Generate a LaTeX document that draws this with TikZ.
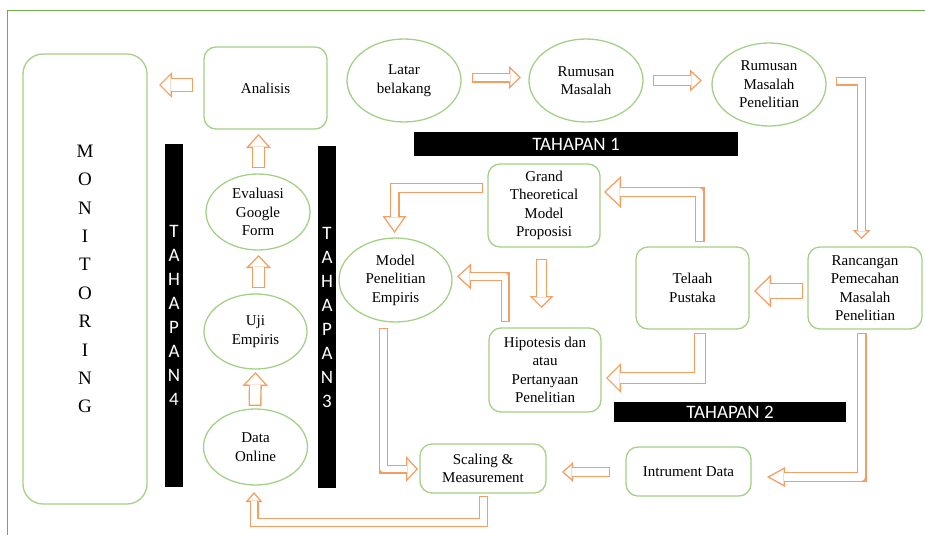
\documentclass[tikz,border=0pt]{standalone}
\usepackage{fontspec}
\setmainfont{Liberation Serif}
\newfontfamily\barfont{Carlito}
\usepackage{tikz}
\usetikzlibrary{arrows.meta,positioning,calc,shapes.geometric}
\definecolor{boxgreen}{RGB}{165,208,135}
\definecolor{framegreen}{RGB}{112,173,71}
\definecolor{arrorange}{RGB}{243,158,98}

\begin{document}
\begin{tikzpicture}[
  x=1pt, y=-1pt,
  font=\fontsize{15}{18.5}\selectfont,
  rbox/.style={draw=boxgreen, line width=1.3pt, rounded corners=12pt, align=center, inner sep=2pt, outer sep=0pt},
  oval/.style={draw=boxgreen, line width=1.3pt, ellipse, align=center, inner sep=0pt, outer sep=0pt, minimum width=114pt, minimum height=83pt},
  tahap/.style={fill=black, text=white, inner sep=0pt, outer sep=0pt, align=center, font=\barfont\fontsize{19}{24}\selectfont},
  blk/.code n args={3}{%
    \pgfmathsetmacro\blkd{1.4*veclen(#1/2,#2)/(#1/2)}%
    \pgfmathsetmacro\blkli{#2-1.4-\blkd}%
    \pgfmathsetmacro\blkhi{\blkli*#1/#2}%
    \pgfmathsetmacro\blkwi{#3-2.8}%
    \edef\blkopts{draw=white, line width=\blkwi pt, -{Triangle[width=\blkhi pt, length=\blkli pt, line width=0pt]}, shorten >=\blkd pt, shorten <=1.4pt,
      preaction={draw=arrorange, line width=#3pt, -{Triangle[width=#1pt, length=#2pt, line width=0pt]}, shorten >=0pt, shorten <=0pt}}%
    \expandafter\pgfkeysalso\expandafter{\blkopts}%
  },
  roundjoin/.style={line join=round}
]
  \useasboundingbox (0,0) rectangle (925,535);
  \draw[framegreen, line width=1pt] (7,535) -- (7,11) -- (925,11);

  \node[rbox, rounded corners=20pt, minimum width=124pt, minimum height=450pt, font=\fontsize{19}{28.4}\selectfont] (monitor) at (85,279) {M\\O\\N\\I\\T\\O\\R\\I\\N\\G};
  \node[rbox, minimum width=123pt, minimum height=82pt] (analisis) at (265.5,88) {Analisis};
  \node[oval] (latar) at (404,80.5) {Latar\\belakang};
  \node[oval, right=68pt of latar] (rumusan) {Rumusan\\Masalah};
  \node[oval] (rmp) at (769,84.5) {Rumusan\\Masalah\\Penelitian};
  \node[tahap, minimum width=324pt, minimum height=24pt] (tahap1) at (576,144) {TAHAPAN 1};
  \node[rbox, minimum width=112pt, minimum height=83pt] (grand) at (544,205.5) {Grand\\Theoretical\\Model\\Proposisi};
  \node[rbox, minimum width=114pt, minimum height=82pt] (ranc) at (865,288) {Rancangan\\Pemecahan\\Masalah\\Penelitian};
  \node[rbox, minimum width=113pt, minimum height=82pt, left=59pt of ranc] (telaah) {Telaah\\Pustaka};
  \node[rbox, minimum width=112pt, minimum height=84pt] (hipo) at (545,370) {Hipotesis dan\\atau\\Pertanyaan\\Penelitian};
  \node[tahap, minimum width=232pt, minimum height=20pt] (tahap2) at (730,412) {TAHAPAN 2};
  \node[rbox, minimum width=125pt, minimum height=49pt] (instr) at (688.5,471.5) {Intrument Data};
  \node[rbox, minimum width=126pt, minimum height=49pt] (scaling) at (483,468.5) {Scaling \&\\Measurement};
  \node[oval, minimum width=113pt, minimum height=84pt] (model) at (395.5,280) {Model\\Penelitian\\Empiris};
  \node[tahap, minimum width=18pt, minimum height=342pt] (tahap3) at (327,317) {T\\A\\H\\A\\P\\A\\N\\3};
  \node[tahap, minimum width=18pt, minimum height=343pt] (tahap4) at (174,315.5) {T\\A\\H\\A\\P\\A\\N\\4};
  \node[oval, minimum width=104pt, minimum height=76pt] (evaluasi) at (258,212) {Evaluasi\\Google\\Form};
  \node[oval, minimum width=103pt, minimum height=75pt] (uji) at (255.5,331.5) {Uji\\Empiris};
  \node[oval, minimum width=104pt, minimum height=76pt, below=40pt of uji] (data) {Data\\Online};

  \draw[blk={26}{13}{14}] ($(analisis.west)+(-11,-3)$) -- ($(monitor.east |- analisis.west)+(12,-3)$);
  \draw[blk={23}{12}{10}] ($(latar.east)+(11,-3)$) -- ($(rumusan.west)+(-8,-3)$);
  \draw[blk={22}{12}{11}] ($(rumusan.east)+(10,0)$) -- ($(rmp.west |- rumusan.east)+(-10,0)$);
  \draw[blk={18}{9}{9}] ($(rmp.east)+(10,-3.5)$) -| ($(ranc.north)+(-3.5,-8)$);
  \draw[blk={33}{17}{16}] ($(ranc.west)+(-5,3)$) -- ($(telaah.east)+(5,3)$);
  \draw[blk={32}{17}{10}, roundjoin] ($(telaah.north)+(7,-5)$) |- ($(grand.east)+(4,-13.5)$);
  \draw[blk={30}{15}{12}] ($(telaah.south)+(7.5,4)$) |- ($(hipo.east)+(5,8)$);
  \draw[blk={20}{18}{10}, roundjoin] ($(ranc.south)+(-3.5,4)$) |- ($(instr.east)+(16,5.5)$);
  \draw[blk={20}{11}{10}] ($(instr.west)+(-16,0.5)$) -- ($(scaling.east |- instr.west)+(16,0.5)$);
  \draw[blk={17}{10}{9}] ($(scaling.south)+(0.5,3)$) |- ($(data.south)+(-1.5,37.5)$) -- ($(data.south)+(-1.5,7)$);
  \draw[blk={26}{14}{13}] ($(data.north)+(-0.5,-3)$) -- ($(uji.south)+(0,3)$);
  \draw[blk={25}{13}{13}] ($(uji.north)+(3,-6)$) -- ($(evaluasi.south)+(0.5,5)$);
  \draw[blk={25}{14}{13}] ($(evaluasi.north)+(0.5,-6)$) -- ($(analisis.south)+(-7,5)$);
  \draw[blk={24}{17}{10}] ($(grand.west)+(-5,-17.5)$) -| ($(model.north)+(-1,-5)$);
  \draw[blk={24}{12}{11}] ($(grand.south)+(-2.5,12)$) -- ($(hipo.north)+(-3.5,-20)$);
  \draw[blk={26}{14}{9}, roundjoin] ($(hipo.north)+(-40,-6)$) |- ($(model.east)+(5,-3.5)$);
  \draw[blk={26}{12}{9}, roundjoin] ($(model.south)+(-12,6)$) |- ($(scaling.west)+(-2,0.5)$);
\end{tikzpicture}
\end{document}
